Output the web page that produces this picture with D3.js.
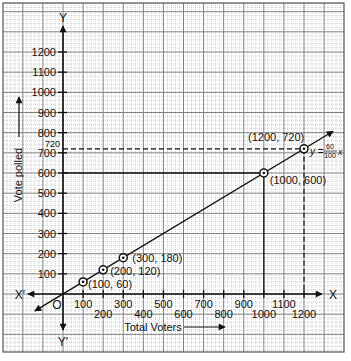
<!DOCTYPE html>
<html>
<head>
<meta charset="utf-8">
<script src="https://cdn.jsdelivr.net/npm/d3@7"></script>
<style>
  body { margin: 0; background: #fff; }
  svg { display: block; font-family: "Liberation Sans", Arial, sans-serif; }
</style>
</head>
<body>
<svg id="chart" width="351" height="361"></svg>
<script>
// data
const xTicks = [100, 200, 300, 400, 500, 600, 700, 800, 900, 1000, 1100, 1200];
const yTicks = [100, 200, 300, 400, 500, 600, 700, 800, 900, 1000, 1100, 1200];
const points = [[100, 60], [200, 120], [300, 180], [1000, 600], [1200, 720]];
const pointLabels = ["(100, 60)", "(200, 120)", "(300, 180)", "(1000, 600)", "(1200, 720)"];
const slope = 60 / 100;
const lineRange = [-140, 1345];

const svg = d3.select("#chart");
const x = d3.scaleLinear().domain([0, 1200]).range([63, 304]);
const y = d3.scaleLinear().domain([0, 1200]).range([294, 52]);

const gLeft = 3, gRight = 344, gTop = 3, gBottom = 352;

// graph paper
const grid = svg.append("g");
const minorX = d3.range(-300, 1420, 20).filter(d => d % 100 !== 0 && x(d) > gLeft && x(d) < gRight);
const minorY = d3.range(-300, 1460, 20).filter(d => d % 100 !== 0 && y(d) > gTop && y(d) < gBottom);
grid.selectAll(".mx").data(minorX).enter().append("line")
  .attr("x1", d => x(d)).attr("x2", d => x(d)).attr("y1", gTop).attr("y2", gBottom)
  .attr("stroke", "#bdbdbd").attr("stroke-width", 0.7).attr("stroke-dasharray", "1,1");
grid.selectAll(".my").data(minorY).enter().append("line")
  .attr("y1", d => y(d)).attr("y2", d => y(d)).attr("x1", gLeft).attr("x2", gRight)
  .attr("stroke", "#bdbdbd").attr("stroke-width", 0.7).attr("stroke-dasharray", "1,1");
const majorX = d3.range(-300, 1500, 100).filter(d => x(d) > gLeft + 1 && x(d) < gRight - 1);
const majorY = d3.range(-300, 1500, 100).filter(d => y(d) > gTop + 1 && y(d) < gBottom - 1);
grid.selectAll(".Mx").data(majorX).enter().append("line")
  .attr("x1", d => x(d)).attr("x2", d => x(d)).attr("y1", gTop).attr("y2", gBottom)
  .attr("stroke", "#808080").attr("stroke-width", 1);
grid.selectAll(".My").data(majorY).enter().append("line")
  .attr("y1", d => y(d)).attr("y2", d => y(d)).attr("x1", gLeft).attr("x2", gRight)
  .attr("stroke", "#808080").attr("stroke-width", 1);
grid.append("rect").attr("x", gLeft).attr("y", gTop)
  .attr("width", gRight - gLeft).attr("height", gBottom - gTop)
  .attr("fill", "none").attr("stroke", "#555").attr("stroke-width", 1.2);

// arrow marker
const defs = svg.append("defs");
defs.append("marker").attr("id", "arr")
  .attr("viewBox", "0 0 10 10").attr("refX", 9).attr("refY", 5)
  .attr("markerWidth", 9).attr("markerHeight", 7).attr("markerUnits", "userSpaceOnUse")
  .attr("orient", "auto-start-reverse")
  .append("path").attr("d", "M0,0L10,5L0,10Z").attr("fill", "#111");

// axes
svg.append("line").attr("x1", 28).attr("x2", 322).attr("y1", y(0)).attr("y2", y(0))
  .attr("stroke", "#111").attr("stroke-width", 1.6)
  .attr("marker-start", "url(#arr)").attr("marker-end", "url(#arr)");
svg.append("line").attr("x1", x(0)).attr("x2", x(0)).attr("y1", 330).attr("y2", 26)
  .attr("stroke", "#111").attr("stroke-width", 1.6)
  .attr("marker-start", "url(#arr)").attr("marker-end", "url(#arr)");

// ticks
svg.selectAll(".xt").data(xTicks).enter().append("line")
  .attr("x1", d => x(d)).attr("x2", d => x(d)).attr("y1", y(0) - 4).attr("y2", y(0) + 4)
  .attr("stroke", "#111").attr("stroke-width", 1.3);
svg.selectAll(".yt").data(yTicks).enter().append("line")
  .attr("y1", d => y(d)).attr("y2", d => y(d)).attr("x1", x(0) - 5).attr("x2", x(0) + 4)
  .attr("stroke", "#111").attr("stroke-width", 1.3);

svg.selectAll(".xl").data(xTicks).enter().append("text")
  .attr("x", d => x(d)).attr("y", (d, i) => i % 2 === 0 ? 308 : 318)
  .attr("text-anchor", "middle").attr("font-size", 11).attr("fill", "#111")
  .text(d => d);
svg.selectAll(".yl").data(yTicks).enter().append("text")
  .attr("x", 56).attr("y", d => y(d) + 4)
  .attr("text-anchor", "end").attr("font-size", 11).attr("fill", "#111")
  .text(d => d);
svg.append("text").attr("x", 60).attr("y", 146.5).attr("text-anchor", "end")
  .attr("font-size", 9).attr("fill", "#111").text("720");

// axis names
const lbl = (tx, ty, t, size, anchor) => svg.append("text").attr("x", tx).attr("y", ty)
  .attr("text-anchor", anchor || "middle").attr("font-size", size).attr("fill", "#111").text(t);
lbl(333, y(0) + 4.5, "X", 12);
lbl(20, y(0) + 4.5, "X′", 12);
lbl(x(0), 22, "Y", 12);
lbl(x(0), 346, "Y′", 12);
lbl(57, 309, "O", 12);
lbl(153, 331, "Total Voters", 11);
svg.append("line").attr("x1", 184).attr("x2", 225).attr("y1", 327).attr("y2", 327)
  .attr("stroke", "#111").attr("stroke-width", 1.2).attr("marker-end", "url(#arr)");
svg.append("text").attr("transform", "translate(22,175) rotate(-90)")
  .attr("text-anchor", "middle").attr("font-size", 11).attr("fill", "#111").text("Vote polled");
svg.append("line").attr("x1", 19).attr("x2", 19).attr("y1", 137).attr("y2", 97)
  .attr("stroke", "#111").attr("stroke-width", 1.2).attr("marker-end", "url(#arr)");

// guide lines
const p1000 = points[3], p1200 = points[4];
svg.append("line").attr("x1", x(0)).attr("x2", x(p1000[0])).attr("y1", y(p1000[1])).attr("y2", y(p1000[1]))
  .attr("stroke", "#111").attr("stroke-width", 1.3);
svg.append("line").attr("x1", x(p1000[0])).attr("x2", x(p1000[0])).attr("y1", y(p1000[1])).attr("y2", y(0))
  .attr("stroke", "#111").attr("stroke-width", 1.3);
svg.append("line").attr("x1", x(0)).attr("x2", x(p1200[0])).attr("y1", y(p1200[1])).attr("y2", y(p1200[1]))
  .attr("stroke", "#111").attr("stroke-width", 1.2).attr("stroke-dasharray", "5,3");
svg.append("line").attr("x1", x(p1200[0])).attr("x2", x(p1200[0])).attr("y1", y(p1200[1])).attr("y2", y(0))
  .attr("stroke", "#111").attr("stroke-width", 1.2).attr("stroke-dasharray", "5,3");

// y = 0.6x line
svg.append("line")
  .attr("x1", x(lineRange[0])).attr("y1", y(lineRange[0] * slope))
  .attr("x2", x(lineRange[1])).attr("y2", y(lineRange[1] * slope))
  .attr("stroke", "#111").attr("stroke-width", 1.4)
  .attr("marker-start", "url(#arr)").attr("marker-end", "url(#arr)");

// points
const pg = svg.selectAll(".pt").data(points).enter().append("g")
  .attr("transform", d => `translate(${x(d[0])},${y(d[1])})`);
pg.append("circle").attr("r", 4).attr("fill", "#fff").attr("stroke", "#111").attr("stroke-width", 1.5);
pg.append("circle").attr("r", 1.3).attr("fill", "#111");

const labelOffsets = [[5, 6], [7, 5], [9, 4], [6, 11], [-56, -8]];
svg.selectAll(".pl").data(points).enter().append("text")
  .attr("x", (d, i) => x(d[0]) + labelOffsets[i][0])
  .attr("y", (d, i) => y(d[1]) + labelOffsets[i][1])
  .attr("font-size", 11).attr("fill", "#111")
  .text((d, i) => pointLabels[i]);

// equation
const eq = svg.append("g").attr("fill", "#111");
eq.append("text").attr("x", 310).attr("y", 155).attr("font-size", 10)
  .html('<tspan font-style="italic">y</tspan> =');
eq.append("text").attr("x", 330).attr("y", 149).attr("font-size", 7).attr("text-anchor", "middle").text("60");
eq.append("line").attr("x1", 324).attr("x2", 337).attr("y1", 151).attr("y2", 151).attr("stroke", "#111").attr("stroke-width", 0.7);
eq.append("text").attr("x", 330).attr("y", 158).attr("font-size", 7).attr("text-anchor", "middle").text("100");
eq.append("text").attr("x", 338).attr("y", 155).attr("font-size", 9).attr("font-style", "italic").text("x");
</script>
</body>
</html>
